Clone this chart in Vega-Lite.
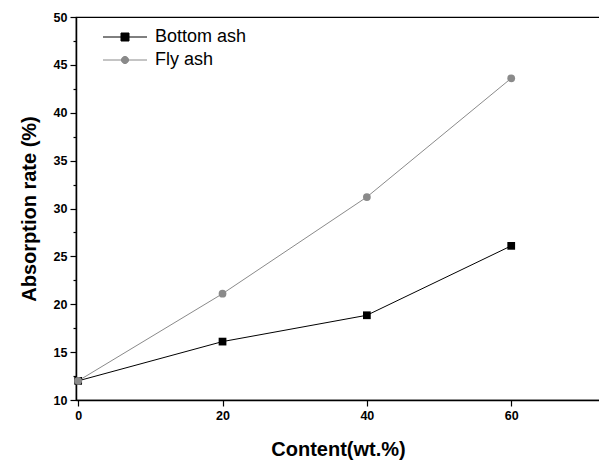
{
  "$schema": "https://vega.github.io/schema/vega-lite/v6.json",
  "width": 524,
  "height": 383,
  "autosize": {"type": "none"},
  "padding": {"left": 76, "top": 17, "right": 0, "bottom": 68},
  "background": "white",
  "config": {
    "view": {"stroke": "black", "strokeWidth": 1.2},
    "axis": {
      "grid": false,
      "domainColor": "black",
      "domainWidth": 1.5,
      "tickColor": "black",
      "tickWidth": 1.2,
      "labelFont": "Liberation Sans",
      "labelFontWeight": "bold",
      "labelFontSize": 12.5,
      "labelColor": "black",
      "titleFont": "Liberation Sans",
      "titleFontWeight": "bold",
      "titleFontSize": 20,
      "titleColor": "black"
    }
  },
  "data": {
    "values": [
      {"content": 0, "rate": 12.0, "series": "Bottom ash", "marker": "square"},
      {"content": 20, "rate": 16.1, "series": "Bottom ash", "marker": "square"},
      {"content": 40, "rate": 18.85, "series": "Bottom ash", "marker": "square"},
      {"content": 60, "rate": 26.1, "series": "Bottom ash", "marker": "square"},
      {"content": 0, "rate": 12.0, "series": "Fly ash", "marker": "circle"},
      {"content": 20, "rate": 21.1, "series": "Fly ash", "marker": "circle"},
      {"content": 40, "rate": 31.2, "series": "Fly ash", "marker": "circle"},
      {"content": 60, "rate": 43.6, "series": "Fly ash", "marker": "circle"}
    ]
  },
  "encoding": {
    "x": {
      "field": "content",
      "type": "quantitative",
      "scale": {"domain": [-0.3, 72.3], "nice": false, "zero": false},
      "axis": {"values": [0, 20, 40, 60], "title": "Content(wt.%)", "tickSize": 6, "labelPadding": 3, "titlePadding": 18}
    },
    "color": {
      "field": "series",
      "type": "nominal",
      "scale": {"domain": ["Bottom ash", "Fly ash"], "range": ["#000000", "#8a8a8a"]},
      "legend": {
        "title": null,
        "orient": "none",
        "legendX": 40,
        "legendY": 11,
        "labelFont": "Liberation Sans",
        "labelFontSize": 18,
        "labelColor": "black",
        "labelOffset": 21,
        "symbolSize": 256,
        "rowPadding": 5,
        "symbolStrokeWidth": 1,
        "encode": {
          "symbols": {
            "update": {
              "shape": {"signal": "datum.value === 'Bottom ash' ? 'M-2.75,0H-0.5M-0.5,-0.5H0.5V0.5H-0.5ZM0.5,0H2.75' : 'M-2.75,0H-0.45M0.45,0H2.75M-0.45,0A0.45,0.45 0 1,0 0.45,0A0.45,0.45 0 1,0 -0.45,0Z'"},
              "stroke": {"signal": "datum.value === 'Bottom ash' ? '#000000' : '#8a8a8a'"},
              "fill": {"signal": "datum.value === 'Bottom ash' ? '#000000' : '#8a8a8a'"},
              "strokeWidth": {"value": 1}
            }
          }
        }
      }
    }
  },
  "layer": [
    {
      "mark": {"type": "line", "strokeWidth": 1},
      "encoding": {
        "y": {
          "field": "rate",
          "type": "quantitative",
          "scale": {"domain": [10, 50], "nice": false, "zero": false},
          "axis": {"orient": "left", "values": [10, 15, 20, 25, 30, 35, 40, 45, 50], "title": "Absorption rate (%)", "tickSize": 6, "labelPadding": 3, "titlePadding": 14}
        }
      }
    },
    {
      "mark": {"type": "point", "filled": true, "size": 60, "opacity": 1},
      "encoding": {
        "y": {
          "field": "rate",
          "type": "quantitative",
          "scale": {"domain": [10, 50], "nice": false, "zero": false},
          "axis": {"orient": "left", "values": [12.5, 17.5, 22.5, 27.5, 32.5, 37.5, 42.5, 47.5], "labels": false, "title": null, "tickSize": 3, "domain": false}
        },
        "shape": {
          "field": "marker",
          "type": "nominal",
          "scale": null,
          "legend": null
        }
      }
    }
  ],
  "resolve": {"axis": {"y": "independent"}}
}
